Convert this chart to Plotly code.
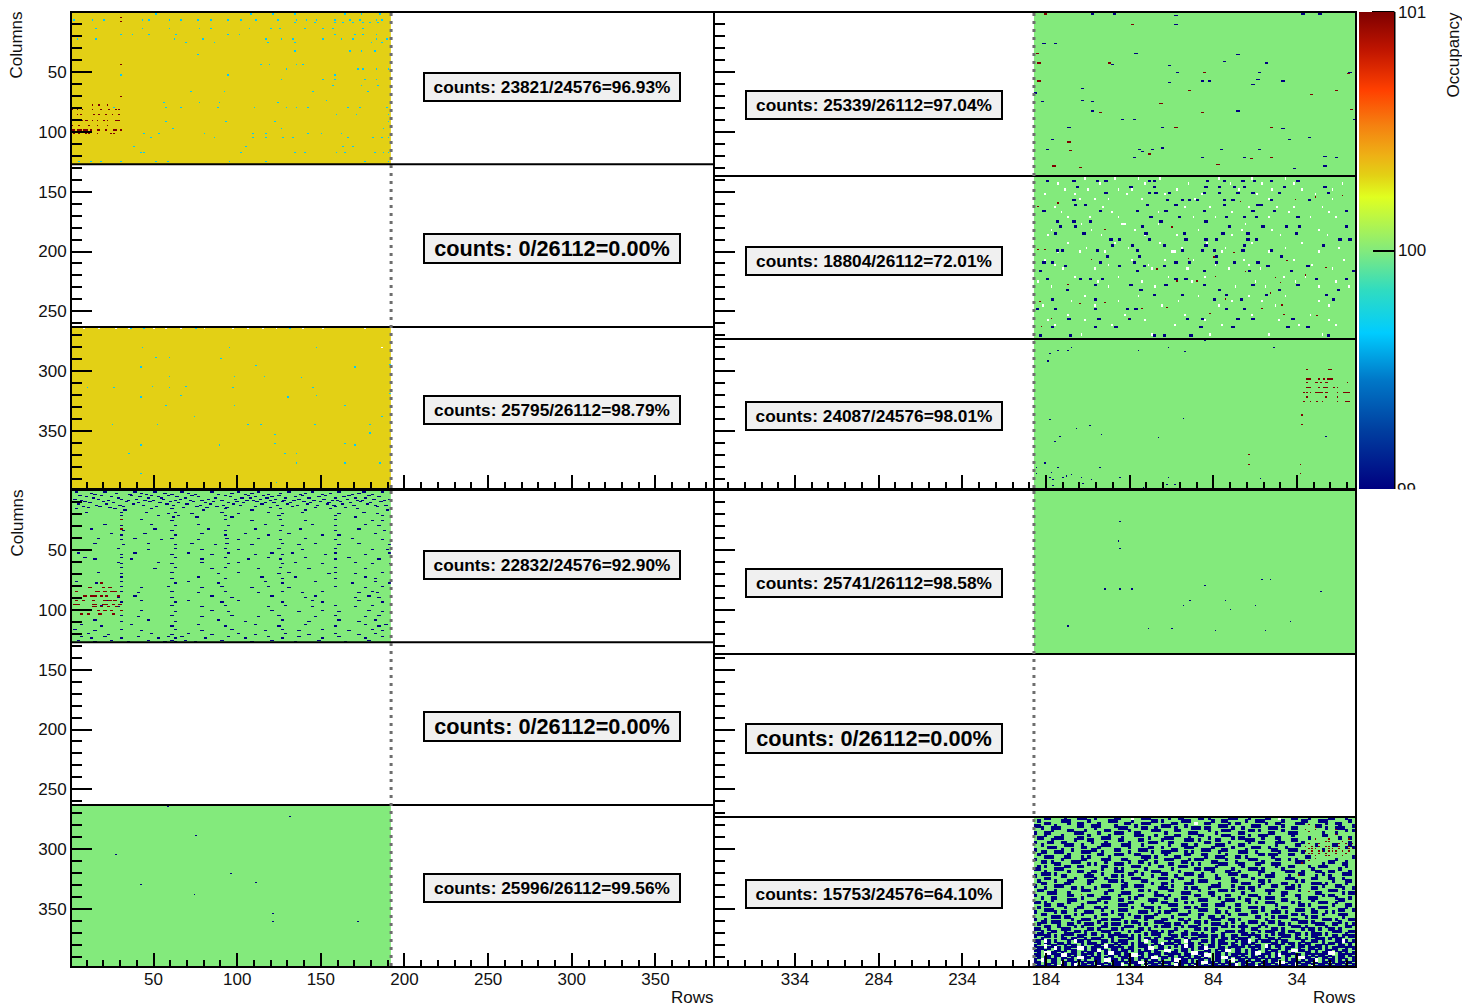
import numpy as np
import plotly.graph_objects as go

# Occupancy values of single pixels, read by eye from zoomed crops of the picture.
# The speckle in the densest sensors is a hand estimate of position and density,
# not an exact pixel-by-pixel reading.
Z_BLUE, Z_RED, Z_CYAN, Z_GREEN, Z_YELLOW = 99.0, 101.0, 99.65, 100.0, 100.316

x_major_left = [50, 100, 150, 200, 250, 300, 350]
x_major_right = [334, 284, 234, 184, 134, 84, 34]
x_minor_left = list(range(10, 385, 10))
x_minor_right = list(range(4, 382, 10))
y_major = [50, 100, 150, 200, 250, 300, 350]
y_minor = list(range(10, 398, 10))
cbar_ticks = [100, 101]

# Tables of (row, [columns])
tl1_cyan = [
 (1,[51,108,121,134,164,174,185]),
 (6,[2,13,20,43,47,59,66,76,84,94,102,111,124,135,141,147,158,167,173,183,186]),
 (8,[134,146,158,163,169,175,179,184]),
 (13,[15,43,59,77,84,107,120,125,140,151,157,175]),
 (18,[30,37,47,63,94,101,158,170,175,183]),
 (22,[4,15,62,79,117,126,133,151,162,169,183,189]),
 (25,[69,86,118,134,180,186]),(32,[134,167,174,182]),(35,[76]),
 (43,[114,119,135,139]),(47,[129,172,175,183,190]),(52,[30,94,158]),
 (56,[126,151,158,176,183]),(61,[157,174,184]),(66,[72,92,145,178]),
 (73,[153]),(75,[56,77,89,124]),(79,[26,57,66,88,110,129,135,142,166,173,189]),
 (85,[159,171,190]),(91,[57,93,122,190]),(97,[61,126,187]),
 (101,[44,53,80,109,117,142,150,162]),(104,[48,86,109,117,127,133,166,181,186,190]),
 (112,[38,105,163,169]),(117,[42,44,102,134,140,159,164,182,187,190]),
 (124,[5,12,18,30,51,58,95,117,176,190]),
]
tl1_red = [
 (4,[30]),(7,[30]),(43,[30]),(70,[30]),(77,[13,17,22]),(81,[1,4,7,13,18,23,27,29]),
 (85,[4,6,14,17,21,25,29]),(90,[1,2,3,5,6,7,9,10,13,16,20,22,27,28,29]),
 (94,[1,5,11,16,22]),(98,[1,2,4,5,6,8,9,10,12,16,17,21,26,27,30]),
 (101,[2,5,9,11,16,24,26]),
]
tl3_cyan = [
 (264,[36,44,75,131]),(280,[43,95,147]),(288,[51,59]),(289,[90]),(296,[42,170]),
 (295,[111]),(294,[191]),(304,[59,98,116]),(305,[138]),(313,[10,26,59,97,145]),
 (312,[49,69]),(321,[42,130]),(320,[66,147]),(318,[191]),(328,[57,98,164]),
 (337,[74,186]),(344,[25,52,106,114,146,179]),(352,[122]),(351,[179]),
 (361,[42,89,170]),(360,[122,164]),(368,[35,128,135]),(376,[135,164,185]),
 (385,[42]),(392,[123]),
]
tl3_white = [(264,[8,17,27,35,50,57,66,80,97,106,115,123,139,151,176]),(280,[186])]
tr1_blue = [
 (1,[34,47,160,170]),(2,[84]),(10,[84]),(26,[5,12]),(34,[60]),(35,[121]),(44,[80]),
 (43,[46]),(41,[113]),(42,[138]),(50,[85,134,188]),(57,[100,104,148]),(58,[80]),
 (56,[133]),(60,[130]),(63,[28]),(67,[0]),(74,[4,34]),(73,[28]),(82,[34,121]),
 (89,[52,59,191]),(96,[20,76]),(97,[148]),(106,[10,152]),(104,[164]),
 (114,[7,62,70,111,134]),(113,[76]),(116,[64]),(121,[59,100,125,180]),(120,[173]),
 (128,[173]),(130,[155]),
]
tr1_red = [
 (1,[6]),(10,[58]),(34,[1]),(42,[2,44]),(50,[101]),(51,[187]),(57,[2]),(65,[92,180]),
 (68,[165]),(76,[75]),(83,[39,100]),(81,[189]),(96,[84,141]),(108,[20]),(115,[21]),
 (118,[68]),(122,[129]),(121,[141]),(127,[109]),(128,[11]),(129,[27]),
]
tr2_blue = [
 (140,[7,23,37,42,68,71,103,113,124,131,141,157]),(145,[25,57,71,102,110,119,125,149,173]),
 (150,[42,68,72,80,101,110,121,130,146,175]),(156,[23,79,88,92,97,113,118,141,164]),
 (160,[24,30,67,84,113,133,135]),(165,[5,39,61,78,101,130,143,186]),
 (170,[69,86,114,125,132,157]),(174,[13,23,33,75,102]),(178,[15,24,64,116,136,150,158,186]),
 (184,[12,29,66,89,112,127,156]),(189,[45,50,68,90,102,108,127,132,182,188]),
 (194,[46,58,77,102,125,172]),(198,[13,16,37,61,88,100,107,124,141]),(203,[43,62,108,147]),
 (208,[5,10,39,59,84,92,108,119,133]),(211,[18,50,65,77,139,163]),(215,[3,61,101,128,153,190]),
 (222,[7,27,33,40,84,90,168,186]),(227,[36,57,78,101,130,157]),(231,[19,63,110,146,181]),
 (235,[71,88,114,138,174]),(239,[10,36,107,123,178]),(247,[1,12,36,55,60,114,125]),
 (255,[20,38,56,91,100,121,130,154]),(262,[10,36,48,99,118,151,163]),(269,[3,21,71,77,93,175]),
]
tr2_red = [
 (162,[2]),(179,[82]),(181,[42]),(198,[2,6]),(206,[34]),(200,[119]),(205,[92]),(204,[107]),
 (207,[151]),(214,[73]),(216,[126]),(220,[108]),(224,[85,97]),(221,[144]),(219,[162]),
 (213,[174]),(225,[147]),(227,[20]),(234,[141]),(241,[3]),(243,[27]),(242,[42]),(239,[114]),
 (244,[148]),(247,[64,136]),(246,[79]),(255,[10,56]),(251,[105]),(252,[149]),(253,[169]),
 (262,[4]),(159,[14]),(156,[156]),(158,[123]),(154,[168]),(153,[184]),
]
tr2_white = [
 (138,[30,48,62,75,110,130,150]),(147,[18,32,50,58,85,122,142,160,178]),
 (155,[27,36,44,64,96,140,178]),(162,[12,41,90,105,128,145,155,172]),
 (170,[20,33,50,70,95,108,140,165,180]),(176,[28,52,53,54,74,126]),
 (185,[8,40,66,85,118,147,175]),(192,[20,48,75,103,130,160]),
 (199,[14,27,42,82,83,84,112,140,170]),(206,[6,58,78,95,125,155,185]),
 (213,[17,36,70,91,92,116,135,178]),(220,[24,50,80,102,149,162]),
 (228,[10,44,72,120,138,170,188]),(236,[30,62,98,128,150]),(244,[5,36,76,110,144,176]),
 (252,[20,54,90,130,165]),(260,[12,46,84,112,158,180]),(268,[28,70,105,140,172]),
 (142,[14,39,66,92,117,136,155,184]),(151,[6,24,55,78,100,133,168]),(166,[16,46,74,118,152,176]),
 (181,[10,34,60,98,124,142,170]),(196,[31,56,88,114,150,182]),(210,[12,44,68,108,128,166]),
 (224,[2,38,64,94,132,156,180]),(240,[22,50,86,118,136,170]),(256,[8,30,66,102,146,176]),
]
tr3_blue = [
 (274,[102]),(285,[9]),(282,[14,20,62]),(280,[22,80,143]),(283,[90]),(291,[8]),(339,[89]),
 (340,[9]),(347,[25]),(345,[33]),(352,[40]),(354,[15,174]),(355,[74]),(358,[12]),(376,[6]),
 (380,[14,1,39]),(384,[10]),(385,[1]),(388,[17,28,51,80,9]),(387,[19]),(386,[22]),
 (390,[11,34]),(389,[135]),(393,[29]),(394,[79,84]),(395,[11]),(397,[65]),
]
tr3_red = [
 (298,[163,176,177]),(306,[163,164,165,170,173,175,176,177,178]),
 (309,[163,168,169,171,174,175,187]),(313,[163,164,165,170,173,174,175,179,181]),
 (317,[161,163,165,168,169,170,171,172,174,175,181,185,186,187,188]),(321,[163,174,181]),
 (325,[161,165,169,172,181,186,187,188]),(336,[160]),(344,[160]),(369,[128]),
 (377,[128,159]),(385,[159]),
]
bl1_blue = [
 (1,[3,20,38,50,66,84,100,112,130,144,160,175,186]),(2,[12,27,42,56,70,96,108,125,140,155,172]),
 (3,[14,35,45,60,74,88,104,118,137,150,168,180]),(4,[5,18,36,48,58,72,92,106,115,124,138,152,166,178]),
 (5,[9,24,41,52,63,76,95,110,120,134,148,163,184]),(6,[13,28,46,54,68,86,102,107,117,128,142,158,170,176]),
 (7,[2,16,30,39,55,65,82,98,113,122,136,151,165,181,190]),
 (8,[6,22,34,44,49,62,71,78,90,105,109,119,127,133,145,156,159,171,174,187]),
 (9,[8,19,33,47,59,73,85,99,111,126,139,149,161,173,185]),(10,[11,25,40,53,64,80,94,103,116,121,131,143,154,167,179]),
 (11,[4,21,37,57,69,83,97,114,129,141,153,162,177]),(12,[15,29,43,61,77,91,101,123,135,147,157,169,182,188]),
 (13,[7,17,31,51,75,87,110,132,158,183]),(14,[10,23,67,81,93,119,146,164]),(15,[3,26,48,60,92,125,155,171]),
 (16,[32,79,108,140,189]),
 (18,[9,30,45,62,90,118,138,175]),(19,[58,72,100,126,160,183]),
 (21,[30,52,64,92,124,158,186]),(22,[61,75,96,170]),
 (24,[30,42,92,125,158]),(25,[60,108,140,180,186]),
 (28,[20,48,76,116,144,176]),(29,[30,62,94,126,158,184]),
 (32,[12,50,82,110,137,172]),(33,[31,60,92,125,158,187]),
 (36,[24,44,78,104,130,182]),(37,[30,62,92,118,150,160]),
 (40,[16,38,60,93,112,140,168]),(41,[30,54,76,100,125,158,186]),
 (44,[14,46,72,93,126,146,172]),(45,[31,62,86,108,136,160,190]),
 (48,[28,62,92,124,158]),(49,[46,78,100,138,180,189]),
 (52,[4,38,70,94,120,132,158,190]),(53,[30,60,84,110,126,152,176]),
 (56,[8,30,62,92,118,140,166]),(57,[14,36,78,106,125,158,184]),
 (60,[28,52,78,100,134,170]),(61,[30,60,94,126,150,180,191]),
 (64,[30,62,92,125,158]),(65,[50,84,112,142,176]),
 (68,[16,60,100,130,158,186]),(69,[30,88,124,154,170]),
 (72,[30,76,114,134,176]),(73,[60,92,126,158,182]),
 (76,[3,30,70,116,146,182]),(77,[15,62,88,126,168,190]),
 (80,[30,58,90,118,158,186]),(81,[42,78,108,130,176]),
 (84,[30,60,92,126,150,180]),(85,[40,76,112,138,172,183]),
 (88,[12,38,84,120,146,178]),(89,[28,60,96,140,170,184]),
 (92,[22,42,70,100,144,172]),(93,[30,62,90,126,150,186]),
 (96,[18,60,92,128,158,180]),(97,[28,78,118,144,170]),
 (100,[42,84,120,150,178]),(101,[62,94,136,160,186]),
 (104,[30,60,96,124,158,184]),(105,[40,78,112,146,176]),
 (108,[14,46,88,126,160,182]),(109,[30,62,104,142,172]),
 (112,[6,36,76,110,140,176,188]),(113,[18,60,92,124,158,184]),
 (116,[2,30,62,96,126,150,180]),(117,[14,42,78,116,136,166,186]),
 (119,[10,48,70,100,128,158,182]),(120,[22,60,84,110,142,172]),
 (122,[6,20,40,58,66,94,118,136,160,186]),(123,[12,30,52,62,80,104,126,150,176]),
 (125,[4,24,46,60,68,90,120,148,178]),(126,[14,34,56,62,74,108,134,164]),
]
bl1_red = [
 (24,[30]),(32,[30]),(77,[18]),(81,[11,19,23]),(84,[3,15,16,20,24,26]),(88,[8,12,14,18,21,28]),
 (92,[3,7,13,20,23,26]),(95,[2,4,13,14,19,21,25,29]),(97,[13,14,18,22,27]),
 (100,[3,8,16,20,24,30]),(103,[6,10,17,25]),
]
bl3_blue = [(264,[58]),(288,[75]),(304,[27]),(329,[42]),(337,[74]),(320,[96]),(327,[111]),
            (272,[131]),(353,[121]),(360,[121,172])]
br1_blue = [(26,[51]),(42,[50]),(48,[51]),(74,[136,141]),(79,[102]),(82,[42,51,58]),(84,[171]),
            (92,[93,114]),(96,[89,132]),(99,[117]),(109,[153]),(113,[20]),(115,[68,82]),(117,[108,138])]

# One character per 2x2 pixel block of the lowest right sensor:
# . at 100, # at the low end of the scale, r at the high end, o empty.
br3_blocks = [
 "...##....#...###..#.....##...o..###.....#..##....##.#.....###...#....##..o...##...#.....##...#..",
 ".#......###.....#.....###....#.....##.#.....###......#..##.....#..###.....#.....##...###......#.",
 "...##.....#..##....#.......##...###......##.....o..##.....#.##.......#..##....###......#..##....",
 "##....#......##..###....#.....#.......###....#.........###.......###......#.......r.##.....#...#",
 "..#..###..........#......###....##..#.....#....###.##......#..#.......###....##.....r..#..###....",
 ".....#....##...#.....##.....#......###....##........#...###.....##.#......#......r..r.....r..#.#",
 "#..##.......###....#....###...##.......#......###.....#......##.......##....###...r...#...#.....",
 "...#....#.......#.....#.......###...#.....##.....##.....###.....#..###.......#........##..r.....",
 ".##...###....##.....###...#.......#....###....#.....#......#.##.....#...##........#........#..#.",
 ".....#......#...##.......##....##.....#......###.#....##.......###.......#...##.....r...r.....r.",
 "#...##..##.......#...#......#.....###...##.........##.....#.....#..##...###.....#......rr...r.#.",
 "..#......###..#.....###...###...#.......#...##..#.....###....##.........#.....##..r.#r...##r.r#r",
 "....###.......##...#........#.....##..#......###.....#.....#.....###..#....#.....r.r.r.rr..r.#r#",
 "#.......#..#.....##.....##.....###.......##.......###...##.....#.......##...###...rrr.#.rr.r..rr",
 "..##..###.....###...#.......#......#..###....#.#.......#.....###..#......#......#r.r.rr.rrr.r.r.",
 ".#........#........##...###...##.......#.....##...##.....#.........##.###...##....rr.r.r..r..r..",
 "...###...##...#.#.....#.........###.#.....##.......#..###...##.#.......#.........##.r..rr...r..#",
 "#.......#.....##....###...##.....#.....###....#.###......#......###.....##..#.#.....r.....#.....",
 "..##.#.....###.......#......#..##...#.......##.......##.....#.......#.........###.r.....##...#..",
 "......##........#.#.....###.......#.....##.....#.#.....###...##...##...###......r.....#.....##..",
 ".#.#.....##..##.....##.......###.....##....###........#.......#.........#...##....#..###.....#..",
 "##....###...........#...#.#......#.......#......##.###.....#....###.#.....#........#.......#....",
 "...#......#..##..##.....###...#....###.....#.........#...##..#.....##......###..#...##..##....#.",
 "..###.#.........#...#.......##..#.....##.....###..#.......###......#...#.......##.....#.....###.",
 "#.......##.....###.....##.#........#......#......##...#.......##.....###....#..r....#...#.......",
 "...##.......#.....#..#.......###.....###...##.........##...#.....#.........###.....##...##..#...",
 ".#....#...##....##....###.#.....##.......#.....#.###.......##......##.#.......#.#........#...##.",
 "..##.....##.....#..........#.......#..##.....###.......#......###...#.....##.......###.#.....#..",
 "#.....###...........###...##..###.....#..#...........###...#.......#...##....#.#......#...##.....",
 "...#.......##.#...#.......#..........###.....#.##...#........##.##.........###.....##.......#..#",
 ".##...#.......###.....##.......##.#.....##.......#.....###.#.....#...###.......#........###.....",
 "....###...#..........#....###.......#.......###.....##........#.......#...##......r.##......#.##",
 "#.........##..r.##.......#.....##...###.#.......##...#...##.....###.......#...##......#.##......",
 "..#..##.......#.....###.....#.#........#....##.........#.....#.....#.###.......#..###.....#...#.",
 ".....#....###......#.....##.......###.....#......###.....###...##.........##.......#.......##..",
 "##.#......#.....###..#......##.....#..##.....#.#........#.......#.#..###.....#.#.....###..#.....",
 "...##..##.....#..........###....#.......###.......##..###...##..........#......##.#......#...##.",
 ".#.......#...##...##.#.......#...###.#.......##.#.........#.....###.#.....##.........###.....#..",
 "...###......#.......#....###.......#.....##......###..#.....##......#...#.....###..#.......##..#",
 "#.....#.##.....###.....#.......###...#.##.....#.......##.#.......##....###.#.......##..#.#......",
 "..##........#.#.....##...##.#.......#......###...##.......#..###.....#.......##.#.....#....###..",
 ".....###.##.......#.......#...##.###.....#.......#..##..#.........##...#.###.....#.##.......#...",
 "#..#.......#..###...##.###.......#....##...##.#......###..##.#.......#.......##.......###.#...##",
 "..##.###.....#.....#.......#.##.....###......#..##.#.......#....###...##.#.....###.#.......#....",
 ".#.....#..##...###...#.###.....#.#.....##.##.....#...###.#....#.....#....##.#.......###..##..#.#",
 "...##..#....#.#.....##.....###......#.###...#.###.......##.#.###...#.#.......###.#.....#.....##.",
 "##..#...###.....##.#...##.#....##.#.......#.....##.#.##.......#..##....##.#.....#.##.#..##.#....",
 "..#..##..#..##.#....###.....#.##...##.#.##...#.......#...###.##....#.###..#.##.....#.....###..##",
 ".##.#....###...#.##...#.##.......#.###..#...##.##.#.....#.....##.#.....#.##...##.#.###.#.....#..",
 "#..##.#.#....##.....#.##.###.#.#.....#...##.#....###.##.#..##...#.##.#....###.#....##....##.#.##",
 "..#.....##.##..#.###...#....##.#.##.#..###...#.##....#..##.#.###...#..##.#....##.#..###.#.##....",
 "##.o#.#...#.o##.#...##.#.###...#.o.##...#.##.o#...##.#.##...#.##o.#.###.#.##....#..##.#...##o#.#",
 ".#.##..##.#...#.###.#...#.##.#.##...#.o###.#..##.#...#.###.#..##.#.....##.#.##.#.##...#.##.#..#.",
 "#..o.##..#.##.#...##.o##.#...#.###.#.##...#.#o##..#.##.#...##.#.#.##.o#.##...#.##.#.##.#...##.#.",
 ".##.#.o#.##..oo#.##.#..##.#.##...#oo.##.#...##.#.##o...##.#.##...#.#.##..#.##..#..##.#.#.##..#.#",
 "##.#..##.#.##..#.##o.#.##.##.#.#.##.#..oo.#.##.#...##.#.#oo.##.#.##..#.##..#.oo##.#.#..##.#.##..",
 ".#.oo##.#..##.#.##.#.#oo##.#...##.#.##.#.##..#.oo##.#.##.#..##.#.#oo.##.#.##.#...##.#.##oo.#.#.#",
 "##..#.##oo#.#.##.#.#..##.#.##oo.#.##.#..##.#.##.#.#oo.##.#.##.#..#.##.#.#o.##.##.#.#.##.#..##.#.",
 ".#.##.#.##.#.oo##.##.#.#..##.#.##.#oo.##.#.##.#.##.#..##oo#.##.#.##.#.#.##.#..#oo##.#.##.#.##..#",
 "#.o#.##.#.##.#.#..##.oo##.#.##.#.#.##.#..#oo##.#.##.#.##.#.o.##.#.##.#.##..#.##.#.##o.#.##.#.#.#",
 "##.#.##.o#.##.#.##.#.#..##.#.##oo.##.#.##.#.##.#.#oo##.#.##.#.##.#..##.#.oo.##.#.##.#.##.#.##.#.",
 ".#.##.#.##.#o.##.#.##.#.##o.#.##.#.##.#.#.o##.#.##.#.##.#.##o.#.##.#.##.#.##.#o.##.#.##.#.##.#.#",
 "#.##.#.o##.#.##.#.#o##.#.##.#.##.o#.##.#.##.#.##o.#.##.#.##.#.##.#o.##.#.##.#.##.#.o##.#.##.#.##",
]

colour_stops = [
 (0.0,"#000080"),(0.124,"#003fa0"),(0.229,"#0078c8"),(0.327,"#00ccff"),(0.417,"#30dcc0"),
 (0.5,"#83ea7c"),(0.612,"#e0ff20"),(0.658,"#e3d015"),(0.70,"#eeb015"),(0.763,"#f58010"),
 (0.836,"#ff4000"),(0.92,"#c01500"),(1.0,"#7f0000"),
]

panel_texts = [
 ["counts: 23821/24576=96.93%","counts: 0/26112=0.00%","counts: 25795/26112=98.79%"],
 ["counts: 25339/26112=97.04%","counts: 18804/26112=72.01%","counts: 24087/24576=98.01%"],
 ["counts: 22832/24576=92.90%","counts: 0/26112=0.00%","counts: 25996/26112=99.56%"],
 ["counts: 25741/26112=98.58%","counts: 0/26112=0.00%","counts: 15753/24576=64.10%"],
]

W, H = 1462, 1008
def fx(p): return p / W
def fy(p): return 1 - p / H

def put(z, top, table, value, bw=2, bh=1):
    for row, cols in table:
        for c in cols:
            r = row - top
            if 0 <= r < z.shape[0] and 0 <= c < z.shape[1]:
                z[r:r + bh, c:c + bw] = value

def chip(top, nrows, base, *layers):
    z = np.full((nrows, 192), float(base))
    for table, value, bw, bh in layers:
        put(z, top, table, value, bw, bh)
    return z

def from_blocks(top, nrows, base, blocks):
    z = np.full((nrows, 192), float(base))
    # Blue and empty blobs are about one and a half lines tall; red marks are thin.
    for i, line in enumerate(blocks):
        for j, ch in enumerate(line):
            if ch == "#":
                z[i * 2:i * 2 + 3, j * 2:(j + 1) * 2] = Z_BLUE
    for i, line in enumerate(blocks):
        for j, ch in enumerate(line):
            if ch == "o":
                z[i * 2:i * 2 + 3, j * 2:(j + 1) * 2] = np.nan
            elif ch == "r":
                z[i * 2, j * 2] = Z_RED
    return z

fig = go.Figure()
AX = [("x", "y"), ("x2", "y2"), ("x3", "y3"), ("x4", "y4")]
LEFT_X0, RIGHT_X0 = 0.5, 190.7

def add_chip(panel, top, z):
    xa, ya = AX[panel]
    right = panel % 2 == 1
    fig.add_trace(go.Heatmap(z=z, x0=RIGHT_X0 if right else LEFT_X0, dx=-1 if right else 1,
                             y0=top + 0.5, dy=1, coloraxis="coloraxis", xaxis=xa, yaxis=ya,
                             hoverinfo="skip", showscale=False))

add_chip(0, 0, chip(0, 127, Z_YELLOW, (tl1_cyan, Z_CYAN, 1, 1), (tl1_red, Z_RED, 1, 1)))
add_chip(0, 263, chip(263, 136, Z_YELLOW, (tl3_cyan, Z_CYAN, 1, 1), (tl3_white, np.nan, 1, 1)))
add_chip(1, 0, chip(0, 137, Z_GREEN, (tr1_blue, Z_BLUE, 2, 1), (tr1_red, Z_RED, 2, 1)))
add_chip(1, 137, chip(137, 136, Z_GREEN, (tr2_white, np.nan, 1, 2), (tr2_blue, Z_BLUE, 2, 2), (tr2_red, Z_RED, 1, 1)))
add_chip(1, 273, chip(273, 126, Z_GREEN, (tr3_blue, Z_BLUE, 1, 1), (tr3_red, Z_RED, 1, 1)))
add_chip(2, 0, chip(0, 127, Z_GREEN, (bl1_blue, Z_BLUE, 2, 1), (bl1_red, Z_RED, 2, 1)))
add_chip(2, 263, chip(263, 136, Z_GREEN, (bl3_blue, Z_BLUE, 1, 1)))
add_chip(3, 0, chip(0, 137, Z_GREEN, (br1_blue, Z_BLUE, 1, 1)))
add_chip(3, 273, from_blocks(273, 126, Z_GREEN, br3_blocks))

FONT = "Liberation Sans, Arial, sans-serif"
TICKFONT = dict(family=FONT, size=17, color="#111111")

def xaxis(right, labels):
    dom = [fx(715), fx(1355)] if right else [fx(72), fx(713)]
    rng = [381.8, -0.66] if right else [1.28, 384.4]
    major = x_major_right if right else x_major_left
    return dict(domain=dom, range=rng, autorange=False, tickmode="array",
                tickvals=major, ticktext=[str(v) for v in major],
                ticks="inside", ticklen=13, tickwidth=2, tickcolor="black",
                showticklabels=labels, tickfont=TICKFONT, ticklabelstandoff=-3,
                minor=dict(tickmode="array", tickvals=x_minor_right if right else x_minor_left,
                           ticks="inside", ticklen=6, tickwidth=2, tickcolor="black", showgrid=False),
                showgrid=False, zeroline=False, showline=True, linecolor="black", linewidth=2, mirror=True)

def yaxis(top, labels, anchor):
    return dict(domain=[fy(top + 475), fy(top)], range=[397.6, 0.7], autorange=False,
                tickmode="array", tickvals=y_major, ticktext=[str(v) for v in y_major],
                ticks="inside", ticklen=20, tickwidth=2, tickcolor="black",
                showticklabels=labels, tickfont=TICKFONT,
                minor=dict(tickmode="array", tickvals=y_minor, ticks="inside", ticklen=10,
                           tickwidth=2, tickcolor="black", showgrid=False),
                showgrid=False, zeroline=False, showline=True, linecolor="black", linewidth=2,
                mirror=True, anchor=anchor)

layout = dict(
    width=W, height=H, autosize=False, margin=dict(l=0, r=0, t=0, b=0),
    paper_bgcolor="white", plot_bgcolor="white", showlegend=False,
    xaxis=dict(xaxis(False, False), anchor="y"),
    yaxis=yaxis(13, True, "x"),
    xaxis2=dict(xaxis(True, False), anchor="y2"),
    yaxis2=yaxis(13, False, "x2"),
    xaxis3=dict(xaxis(False, True), anchor="y3"),
    yaxis3=yaxis(491, True, "x3"),
    xaxis4=dict(xaxis(True, True), anchor="y4"),
    yaxis4=yaxis(491, False, "x4"),
    coloraxis=dict(
        cmin=99, cmax=101, colorscale=[[a, b] for a, b in colour_stops],
        colorbar=dict(
            thickness=35, thicknessmode="pixels", len=477, lenmode="pixels",
            x=fx(1359), xanchor="left", xpad=0, y=fy(489), yanchor="bottom", ypad=0,
            tickmode="array", tickvals=cbar_ticks, ticktext=[str(v) for v in cbar_ticks],
            ticks="inside", ticklen=21, tickwidth=2, tickcolor="black",
            tickfont=TICKFONT, outlinewidth=0, borderwidth=0, title=dict(text=""),
        ),
    ),
)
fig.update_layout(**layout)

# Sensor boundaries and the dotted edge of the filled half.
boundaries = [[127, 263], [137, 273], [127, 263], [137, 273]]
edges = [192, 191.2, 192, 191.2]
for i, (rows, edge) in enumerate(zip(boundaries, edges)):
    xa, ya = AX[i]
    for b in rows:
        fig.add_shape(type="line", xref=f"{xa} domain", yref=ya, x0=0, x1=1, y0=b, y1=b,
                      line=dict(color="black", width=2), layer="above")
    fig.add_shape(type="line", xref=xa, yref=f"{ya} domain", x0=edge, x1=edge, y0=0, y1=1,
                  line=dict(color="#6e6e6e", width=3, dash="3px,5px"), layer="above")
fig.add_shape(type="line", xref="paper", yref="paper", x0=fx(1394.5), x1=fx(1394.5),
              y0=fy(489), y1=fy(12), line=dict(color="black", width=2), layer="above")
fig.add_shape(type="line", xref="paper", yref="paper", x0=fx(1372), x1=fx(1394.5),
              y0=fy(12), y1=fy(12), line=dict(color="black", width=2), layer="above")

box_x = [552, 873.5, 552, 873.5]
box_y = [[87, 248.5, 410], [105, 261, 416], [565, 726.5, 888], [583, 738.5, 894]]
for p in range(4):
    for t, cy in zip(panel_texts[p], box_y[p]):
        big = t.startswith("counts: 0/")
        fig.add_annotation(xref="paper", yref="paper", x=fx(box_x[p]), y=fy(cy),
                           xanchor="center", yanchor="middle", showarrow=False,
                           text=f"<b>{t}</b>", font=dict(family=FONT, size=21.7 if big else 17.3, color="black"),
                           bgcolor="#f0f0f0", bordercolor="black", borderwidth=2, borderpad=0,
                           width=254, height=26 if not big else 27, align="center")

def label(text, px, py, xanchor="center", yanchor="middle", angle=0):
    fig.add_annotation(xref="paper", yref="paper", x=fx(px), y=fy(py), text=text, showarrow=False,
                       xanchor=xanchor, yanchor=yanchor, textangle=angle, borderpad=0, borderwidth=0,
                       font=dict(family=FONT, size=17, color="#111111"))

label("Columns", 16.5, 45, angle=-90)
label("Columns", 16.5, 523, angle=-90)
label("Rows", 713.5, 997, xanchor="right")
label("Rows", 1355.5, 997, xanchor="right")
label("Occupancy", 1453, 54.5, angle=-90)
label("99", 1397, 489, xanchor="left")
# The lowest colour-bar label is cut off at the frame of the pad.
fig.add_annotation(xref="paper", yref="paper", x=fx(1396), y=fy(489), xanchor="left", yanchor="top",
                   text=" ", showarrow=False, bgcolor="white", width=40, height=24, borderpad=0)

fig.write_html("out.html", config=dict(displayModeBar=False),
               post_script="document.body.style.margin='0';document.documentElement.style.overflow='hidden';")
